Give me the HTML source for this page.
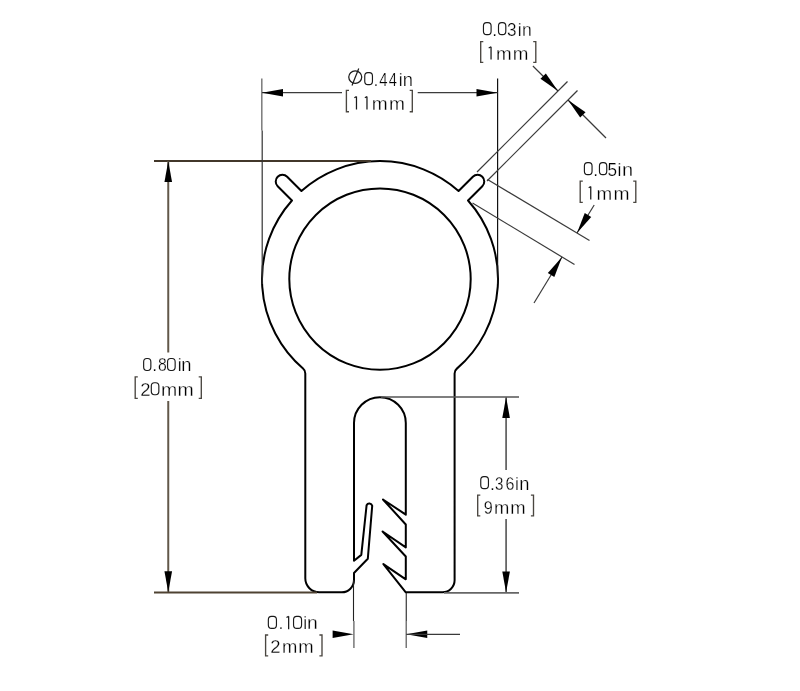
<!DOCTYPE html>
<html><head><meta charset="utf-8"><style>
html,body{margin:0;padding:0;background:#fff;}
svg{display:block;}
.prof{fill:none;stroke:#000;stroke-width:2;stroke-linejoin:round;}
.ah{fill:#000;stroke:none;}
.bk{fill:none;stroke:#4a4640;stroke-width:1.35;}
.one{fill:none;stroke:#1a1a1a;stroke-width:1.25;}
.zero{fill:none;stroke:#1a1a1a;stroke-width:1.15;}
text{font-family:"Liberation Sans",sans-serif;font-size:17.5px;fill:#000;stroke:#fff;stroke-width:0.25;}
.tg{filter:grayscale(1);}
</style></head><body>
<svg width="800" height="691" viewBox="0 0 800 691">
<rect width="800" height="691" fill="#fff"/>
<path d="M305.30,376.48 L305.30,373.48 A6.5,6.5 0 0 0 303.04,368.55 A118.0,118.0 0 0 1 291.96,200.53 L277.68,186.26 A6.7,6.7 0 0 1 287.16,176.78 L301.43,191.06 A118.0,118.0 0 0 1 458.57,191.06 L472.84,176.78 A6.7,6.7 0 0 1 482.32,186.26 L468.04,200.53 A118.0,118.0 0 0 1 456.87,368.63 A6.5,6.5 0 0 0 454.60,373.56 L454.60,580.30 A12,12 0 0 1 442.60,592.30 L405.80,592.30 L383.40,564.10 L405.80,579.30 L405.80,556.50 L382.60,531.50 L405.80,547.40 L405.80,524.50 L383.00,499.50 L405.80,514.60 L405.80,423.00 A25.90,25.90 0 0 0 354.00,423.00 L354.00,560.8 L361.3,554.9 L366.6,505.2 A3,3 0 0 1 372.2,505.8 L367.8,558.8 L354,573 L354,580 A12.3,12.3 0 0 1 341.70,592.30 L319.30,592.30 A14,14 0 0 1 305.30,578.30 Z" class="prof"/>
<circle cx="380.0" cy="279.1" r="90.7" class="prof"/>
<line x1="154" y1="160.9" x2="371" y2="160.9" stroke="#42372a" stroke-width="2"/>
<line x1="154" y1="592.5" x2="317" y2="592.5" stroke="#4f4232" stroke-width="2"/>
<line x1="168.25" y1="161" x2="168.25" y2="352.5" stroke="#62584a" stroke-width="2"/>
<line x1="168.25" y1="401" x2="168.25" y2="592" stroke="#62584a" stroke-width="2"/>
<path d="M168.25,161.00 L164.45,182.00 L172.05,182.00 Z" class="ah"/>
<path d="M168.25,592.30 L172.05,571.30 L164.45,571.30 Z" class="ah"/>
<line x1="261.8" y1="78.5" x2="261.8" y2="130.5" stroke="#7a7a7a" stroke-width="1.5"/>
<line x1="262.2" y1="130.5" x2="262.2" y2="284" stroke="#333" stroke-width="1.2"/>
<line x1="497.6" y1="78.5" x2="497.6" y2="284" stroke="#111" stroke-width="1.2"/>
<line x1="262" y1="92.7" x2="342" y2="92.7" stroke="#3c3c3c" stroke-width="1.2"/>
<line x1="417.7" y1="92.7" x2="497.5" y2="92.7" stroke="#3c3c3c" stroke-width="1.2"/>
<path d="M262.00,92.70 L283.00,96.50 L283.00,88.90 Z" class="ah"/>
<path d="M497.50,92.70 L476.50,88.90 L476.50,96.50 Z" class="ah"/>
<line x1="477" y1="172" x2="567.5" y2="81.5" stroke="#3a3a3a" stroke-width="1.2"/>
<line x1="487" y1="181" x2="577.5" y2="90.5" stroke="#3a3a3a" stroke-width="1.2"/>
<line x1="532.9" y1="66" x2="558" y2="91" stroke="#3a3a3a" stroke-width="1.2"/>
<path d="M558.00,91.00 L545.84,73.46 L540.46,78.84 Z" class="ah"/>
<line x1="568" y1="100" x2="606" y2="138" stroke="#3a3a3a" stroke-width="1.2"/>
<path d="M568.00,100.00 L580.16,117.54 L585.54,112.16 Z" class="ah"/>
<line x1="487.5" y1="179.5" x2="589.5" y2="240.5" stroke="#3a3a3a" stroke-width="1.2"/>
<line x1="472.5" y1="203" x2="574.5" y2="264.5" stroke="#3a3a3a" stroke-width="1.2"/>
<line x1="594.2" y1="205" x2="577" y2="233" stroke="#3a3a3a" stroke-width="1.2"/>
<path d="M577.00,233.00 L591.23,217.10 L584.75,213.12 Z" class="ah"/>
<line x1="562" y1="257" x2="534" y2="303" stroke="#3a3a3a" stroke-width="1.2"/>
<path d="M562.00,257.00 L547.84,272.96 L554.33,276.91 Z" class="ah"/>
<line x1="381" y1="397.1" x2="519" y2="397.1" stroke="#555" stroke-width="1.5"/>
<line x1="444" y1="592.9" x2="519" y2="592.9" stroke="#666" stroke-width="1.6"/>
<line x1="506.1" y1="397" x2="506.1" y2="470" stroke="#666" stroke-width="1.8"/>
<line x1="506.1" y1="519" x2="506.1" y2="592" stroke="#666" stroke-width="1.8"/>
<path d="M506.10,397.00 L502.30,418.00 L509.90,418.00 Z" class="ah"/>
<path d="M506.10,592.50 L509.90,571.50 L502.30,571.50 Z" class="ah"/>
<line x1="353.5" y1="580" x2="353.5" y2="621" stroke="#222" stroke-width="1.1"/>
<line x1="353.9" y1="621" x2="353.9" y2="648.1" stroke="#777" stroke-width="1.5"/>
<line x1="406.25" y1="593" x2="406.25" y2="621" stroke="#222" stroke-width="1.1"/>
<line x1="406.25" y1="621" x2="406.25" y2="648.1" stroke="#777" stroke-width="1.5"/>
<path d="M353.60,634.30 L332.60,630.50 L332.60,638.10 Z" class="ah"/>
<path d="M406.25,634.30 L427.25,638.10 L427.25,630.50 Z" class="ah"/>
<line x1="406.25" y1="634.3" x2="460" y2="634.3" stroke="#3a3a3a" stroke-width="1.2"/>
<ellipse cx="355.25" cy="77.1" rx="6.5" ry="6.2" fill="none" stroke="#1a1a1a" stroke-width="1.25"/>
<line x1="352" y1="85.5" x2="358.75" y2="68.5" stroke="#1a1a1a" stroke-width="1.2"/>
<path d="M137.80,376.80 H135.20 V398.40 H137.80 M198.70,376.80 H201.30 V398.40 H198.70" class="bk"/>
<path d="M349.00,90.40 H346.40 V111.70 H349.00 M409.70,90.40 H412.30 V111.70 H409.70" class="bk"/>
<path d="M483.30,41.60 H480.70 V62.40 H483.30 M533.20,41.60 H535.80 V62.40 H533.20" class="bk"/>
<path d="M582.80,181.10 H580.20 V202.40 H582.80 M633.20,181.10 H635.80 V202.40 H633.20" class="bk"/>
<path d="M480.30,495.10 H477.70 V515.90 H480.30 M530.90,495.10 H533.50 V515.90 H530.90" class="bk"/>
<path d="M268.20,635.00 H265.60 V655.80 H268.20 M319.40,635.00 H322.00 V655.80 H319.40" class="bk"/>
<rect x="143.65" y="358.50" width="7.20" height="12.0" rx="3.1" ry="3.4" class="zero"/>
<rect x="167.55" y="358.50" width="7.60" height="12.0" rx="3.1" ry="3.4" class="zero"/>
<rect x="151.30" y="382.70" width="7.55" height="12.0" rx="3.1" ry="3.4" class="zero"/>
<rect x="364.75" y="72.60" width="7.70" height="12.0" rx="3.1" ry="3.4" class="zero"/>
<path d="M356.48,96.50 V109.55 M354.35,97.70 L356.48,96.50" class="one"/>
<path d="M366.98,96.50 V109.55 M364.85,97.70 L366.98,96.50" class="one"/>
<rect x="483.45" y="22.60" width="7.65" height="12.0" rx="3.1" ry="3.4" class="zero"/>
<rect x="498.50" y="22.60" width="7.30" height="12.0" rx="3.1" ry="3.4" class="zero"/>
<path d="M491.05,46.80 V59.55 M488.70,48.00 L491.05,46.80" class="one"/>
<rect x="584.40" y="162.60" width="7.65" height="12.0" rx="3.1" ry="3.4" class="zero"/>
<rect x="599.45" y="162.60" width="7.30" height="12.0" rx="3.1" ry="3.4" class="zero"/>
<path d="M590.75,186.50 V199.55 M588.70,187.70 L590.75,186.50" class="one"/>
<rect x="480.75" y="476.60" width="7.70" height="12.0" rx="3.1" ry="3.4" class="zero"/>
<rect x="268.35" y="616.30" width="8.10" height="12.0" rx="3.1" ry="3.4" class="zero"/>
<path d="M288.65,616.30 V629.25 M286.50,617.50 L288.65,616.30" class="one"/>
<rect x="293.55" y="616.30" width="8.00" height="12.0" rx="3.1" ry="3.4" class="zero"/>
<g class="tg">
<text transform="translate(152.27,371.45) scale(1.000,1)">.</text>
<text transform="translate(157.91,371.45) scale(0.901,1)">8</text>
<text transform="translate(177.76,371.45) scale(1.000,1)">i</text>
<text transform="translate(181.28,371.45) scale(1.049,1)">n</text>
<text transform="translate(140.37,395.65) scale(1.054,1)">2</text>
<text transform="translate(161.01,395.65) scale(1.113,1)">m</text>
<text transform="translate(177.51,395.65) scale(1.113,1)">m</text>
<text transform="translate(373.62,85.55) scale(1.000,1)">.</text>
<text transform="translate(379.16,85.55) scale(0.850,1)">4</text>
<text transform="translate(388.66,85.55) scale(0.839,1)">4</text>
<text transform="translate(398.81,85.55) scale(1.000,1)">i</text>
<text transform="translate(402.78,85.55) scale(1.049,1)">n</text>
<text transform="translate(371.78,109.55) scale(1.093,1)">m</text>
<text transform="translate(388.93,109.55) scale(1.093,1)">m</text>
<text transform="translate(492.37,35.55) scale(1.000,1)">.</text>
<text transform="translate(507.05,35.55) scale(0.976,1)">3</text>
<text transform="translate(517.66,35.55) scale(1.000,1)">i</text>
<text transform="translate(521.94,35.55) scale(1.002,1)">n</text>
<text transform="translate(495.95,59.55) scale(1.076,1)">m</text>
<text transform="translate(512.75,59.55) scale(1.076,1)">m</text>
<text transform="translate(593.14,175.55) scale(1.000,1)">.</text>
<text transform="translate(607.61,175.55) scale(0.982,1)">5</text>
<text transform="translate(617.61,175.55) scale(1.000,1)">i</text>
<text transform="translate(621.97,175.55) scale(1.143,1)">n</text>
<text transform="translate(596.55,199.55) scale(1.076,1)">m</text>
<text transform="translate(613.62,199.55) scale(1.101,1)">m</text>
<text transform="translate(490.02,489.55) scale(1.000,1)">.</text>
<text transform="translate(494.98,489.55) scale(0.862,1)">3</text>
<text transform="translate(505.59,489.55) scale(0.916,1)">6</text>
<text transform="translate(514.96,489.55) scale(1.000,1)">i</text>
<text transform="translate(519.18,489.55) scale(1.049,1)">n</text>
<text transform="translate(483.74,513.55) scale(0.928,1)">9</text>
<text transform="translate(494.08,513.55) scale(1.052,1)">m</text>
<text transform="translate(510.28,513.55) scale(1.052,1)">m</text>
<text transform="translate(278.54,629.25) scale(1.000,1)">.</text>
<text transform="translate(303.36,629.25) scale(1.000,1)">i</text>
<text transform="translate(307.02,629.25) scale(1.103,1)">n</text>
<text transform="translate(270.37,653.25) scale(1.054,1)">2</text>
<text transform="translate(282.08,653.25) scale(1.052,1)">m</text>
<text transform="translate(298.28,653.25) scale(1.052,1)">m</text>
</g>
</svg>
</body></html>
